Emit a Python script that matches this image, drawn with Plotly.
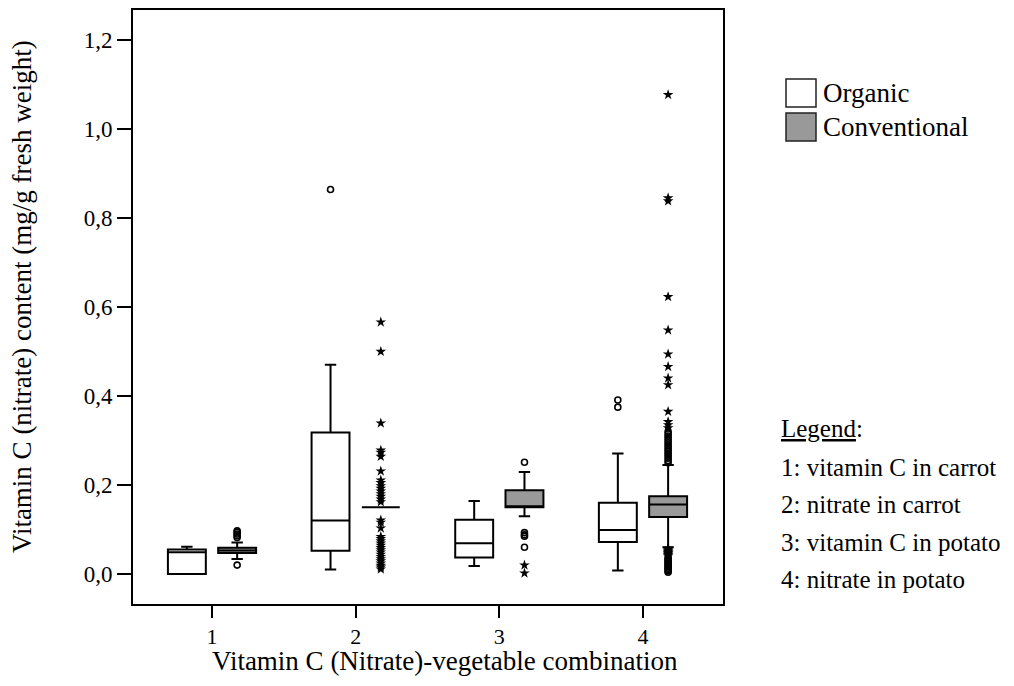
import plotly.graph_objects as go

# ---------------- data ----------------
CATEGORIES = [1, 2, 3, 4]
TICK_LABELS = ["1", "2", "3", "4"]
Y_TICKS = [0.0, 0.2, 0.4, 0.6, 0.8, 1.0, 1.2]
SERIES_NAMES = ["Organic", "Conventional"]

# Organic box statistics (per category 1..4)
org_q1 = [0.000, 0.052, 0.037, 0.072]
org_median = [0.049, 0.120, 0.069, 0.099]
org_q3 = [0.055, 0.318, 0.122, 0.160]
org_lower = [0.000, 0.010, 0.018, 0.008]
org_upper = [0.061, 0.470, 0.164, 0.271]

# Conventional box statistics (per category 1..4)
conv_q1 = [0.047, 0.150, 0.150, 0.128]
conv_median = [0.053, 0.150, 0.151, 0.156]
conv_q3 = [0.059, 0.150, 0.188, 0.175]
conv_lower = [0.034, 0.150, 0.130, 0.060]
conv_upper = [0.071, 0.150, 0.229, 0.245]

# Outliers (circles) and extreme values (stars), per category
org_circles = [[], [0.864], [], [0.375, 0.391]]
org_stars = [[], [], [], []]

conv_circles = [
    [0.082, 0.086, 0.090, 0.094, 0.097, 0.020],
    [],
    [0.251, 0.093, 0.088, 0.085, 0.060],
    [0.250, 0.255, 0.260, 0.265, 0.270, 0.275, 0.280, 0.285, 0.290, 0.295,
     0.300, 0.305, 0.310, 0.315, 0.320,
     0.037, 0.034, 0.031, 0.028, 0.025, 0.022, 0.019, 0.016, 0.013, 0.010,
     0.007, 0.004],
]
conv_stars = [
    [],
    [0.566, 0.500, 0.339, 0.278, 0.273, 0.264, 0.231, 0.211, 0.205, 0.198,
     0.192, 0.186, 0.180, 0.174, 0.168, 0.162, 0.121, 0.116, 0.103, 0.084,
     0.079, 0.074, 0.069, 0.064, 0.059, 0.054, 0.049, 0.044, 0.039, 0.034,
     0.029, 0.024, 0.019, 0.015, 0.011],
    [0.020, 0.002],
    [1.077, 0.845, 0.838, 0.623, 0.548, 0.494, 0.466, 0.440, 0.425, 0.365,
     0.342, 0.335, 0.328,
     0.058, 0.056, 0.054, 0.052, 0.050, 0.048, 0.046, 0.044, 0.042, 0.040],
]

LEGEND_LINES = [
    "1: vitamin C in carrot",
    "2: nitrate in carrot",
    "3: vitamin C in potato",
    "4: nitrate in potato",
]

# ---------------- layout constants ----------------
FONT = "Liberation Serif, Times New Roman, serif"
GROUP_OFFSET = 0.175
BOX_WIDTH = 0.264
FILLS = ["white", "#999999"]
PAGE_MARGIN = 8          # default <body> margin of the html page
FIG_W, FIG_H = 998, 670
# plot area in screen pixels
SCR_L, SCR_R, SCR_T, SCR_B = 133, 723, 10, 604
PLOT_L, PLOT_R = SCR_L - PAGE_MARGIN, SCR_R - PAGE_MARGIN
PLOT_T, PLOT_B = SCR_T - PAGE_MARGIN, SCR_B - PAGE_MARGIN


def px_x(px):
    return (px - SCR_L) / (SCR_R - SCR_L)


def px_y(py):
    return (SCR_B - py) / (SCR_B - SCR_T)


fig = go.Figure()

series = [
    (SERIES_NAMES[0], -GROUP_OFFSET, org_q1, org_median, org_q3, org_lower,
     org_upper, org_circles, org_stars, FILLS[0]),
    (SERIES_NAMES[1], GROUP_OFFSET, conv_q1, conv_median, conv_q3, conv_lower,
     conv_upper, conv_circles, conv_stars, FILLS[1]),
]

for name, off, q1, med, q3, lo, hi, circ, stars, fill in series:
    xs = [c + off for c in CATEGORIES]
    fig.add_trace(go.Box(
        name=name, x=xs, q1=q1, median=med, q3=q3,
        lowerfence=lo, upperfence=hi,
        width=BOX_WIDTH, whiskerwidth=0.3,
        fillcolor=fill, line=dict(color="black", width=2),
        boxpoints=False, showlegend=False, hoverinfo="y",
    ))
    cx, cy = [], []
    for c, vals in zip(CATEGORIES, circ):
        cx += [c + off] * len(vals)
        cy += vals
    sx, sy = [], []
    for c, vals in zip(CATEGORIES, stars):
        sx += [c + off] * len(vals)
        sy += vals
    fig.add_trace(go.Scatter(
        x=cx, y=cy, mode="markers", showlegend=False,
        marker=dict(symbol="circle-open", size=6, color="black",
                    line=dict(width=1.6, color="black")),
    ))
    fig.add_trace(go.Scatter(
        x=sx, y=sy, mode="markers", showlegend=False,
        marker=dict(symbol="star", size=8, color="black",
                    line=dict(width=0)),
    ))

shapes = []
annotations = []

# manual legend for series
leg_boxes = [(79, 107), (113, 141)]
for (y0, y1), name, fill in zip(leg_boxes, SERIES_NAMES, FILLS):
    shapes.append(dict(type="rect", xref="paper", yref="paper",
                       x0=px_x(786), x1=px_x(816), y0=px_y(y1), y1=px_y(y0),
                       fillcolor=fill, line=dict(color="#222222", width=1.5)))
    annotations.append(dict(text=name, xref="paper", yref="paper",
                            x=px_x(821), y=px_y((y0 + y1) / 2),
                            xanchor="left", yanchor="middle", showarrow=False,
                            font=dict(family=FONT, size=27, color="black")))

# legend text block
annotations.append(dict(text="<u>Legend</u>:", xref="paper", yref="paper",
                        x=px_x(779), y=px_y(428), xanchor="left",
                        yanchor="middle", showarrow=False,
                        font=dict(family=FONT, size=25, color="black")))
for i, line in enumerate(LEGEND_LINES):
    annotations.append(dict(text=line, xref="paper", yref="paper",
                            x=px_x(779), y=px_y(467 + 37.5 * i),
                            xanchor="left", yanchor="middle", showarrow=False,
                            font=dict(family=FONT, size=25, color="black")))

# axis titles
annotations.append(dict(text="Vitamin C (nitrate) content (mg/g fresh weight)",
                        xref="paper", yref="paper", x=px_x(22), y=px_y(297),
                        xanchor="center", yanchor="middle", textangle=-90,
                        showarrow=False,
                        font=dict(family=FONT, size=27, color="black")))
annotations.append(dict(text="Vitamin C (Nitrate)-vegetable combination",
                        xref="paper", yref="paper", x=px_x(445), y=px_y(661),
                        xanchor="center", yanchor="middle", showarrow=False,
                        font=dict(family=FONT, size=27, color="black")))

fig.update_layout(
    width=FIG_W, height=FIG_H,
    margin=dict(l=PLOT_L, r=FIG_W - PLOT_R, t=PLOT_T, b=FIG_H - PLOT_B,
                autoexpand=False),
    paper_bgcolor="white", plot_bgcolor="white",
    separators=",.",
    font=dict(family=FONT, size=23, color="black"),
    shapes=shapes, annotations=annotations,
    showlegend=False,
)
fig.update_xaxes(
    range=[0.45, 4.557], tickmode="array", tickvals=CATEGORIES,
    ticktext=TICK_LABELS, ticks="outside", ticklen=12, tickwidth=2,
    tickcolor="black", showline=True, linecolor="black", linewidth=2,
    mirror=True, showgrid=False, zeroline=False,
    tickfont=dict(family=FONT, size=22, color="black"),
)
fig.update_yaxes(
    range=[-0.0674, 1.2674], tickmode="array", tickvals=Y_TICKS,
    tickformat=".1f", ticks="outside", ticklen=14, tickwidth=2,
    tickcolor="black", showline=True, linecolor="black", linewidth=2,
    mirror=True, showgrid=False, zeroline=False,
    tickfont=dict(family=FONT, size=23, color="black"),
)

fig.write_html("out.html")
